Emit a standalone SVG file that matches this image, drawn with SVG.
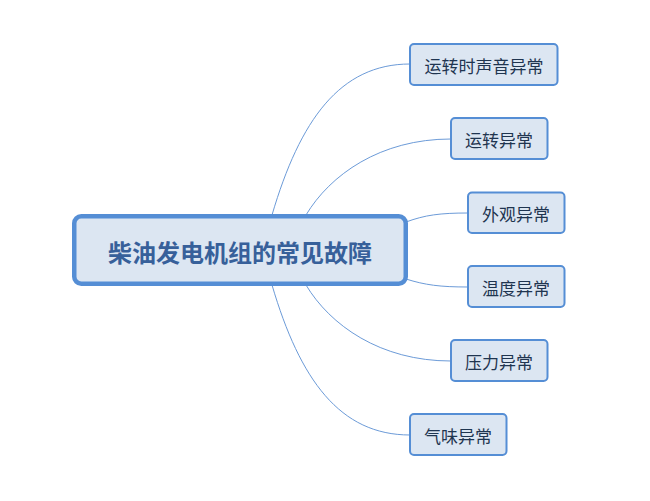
<svg xmlns="http://www.w3.org/2000/svg" width="650" height="501" viewBox="0 0 650 501">
<style>
.node rect{fill:#dce6f2;stroke:#558ed5;stroke-width:2}
.node text{font-family:"Noto Sans CJK SC","Noto Sans",sans-serif;font-size:17px;fill:#1f3550;text-anchor:middle;dominant-baseline:central}
#root rect{stroke-width:4.5}
#root text{font-size:24px;font-weight:bold;fill:#37609a}
.links path{fill:none;stroke:#6c9bd8;stroke-width:1}
</style>
<rect width="650" height="501" fill="#ffffff"/>
<g class="links">
<path d="M272 215 C300 120 340 64 410 64"/>
<path d="M306 215 C330 175 380 139 451 139"/>
<path d="M406 222 C425 215 440 213 468 213"/>
<path d="M406 279 C425 285 440 287 468 287"/>
<path d="M306 285 C330 325 380 361 451 361"/>
<path d="M272 285 C300 380 340 435 410 435"/>
</g>
<g id="root" class="node"><rect x="74.25" y="216.25" width="331.5" height="67.5" rx="7"/><text x="240" y="251">柴油发电机组的常见故障</text></g>
<g id="n1" class="node"><rect x="410" y="44" width="147.5" height="41" rx="4"/><text x="484" y="65">运转时声音异常</text></g>
<g id="n2" class="node"><rect x="451" y="118" width="96.5" height="41" rx="4"/><text x="499" y="139">运转异常</text></g>
<g id="n3" class="node"><rect x="468" y="192.5" width="96.5" height="40.5" rx="4"/><text x="516" y="213">外观异常</text></g>
<g id="n4" class="node"><rect x="468" y="266" width="96.5" height="41" rx="4"/><text x="516" y="287">温度异常</text></g>
<g id="n5" class="node"><rect x="451" y="340" width="96.5" height="41" rx="4"/><text x="499" y="361">压力异常</text></g>
<g id="n6" class="node"><rect x="410" y="414" width="96.5" height="41" rx="4"/><text x="458" y="435">气味异常</text></g>
</svg>
